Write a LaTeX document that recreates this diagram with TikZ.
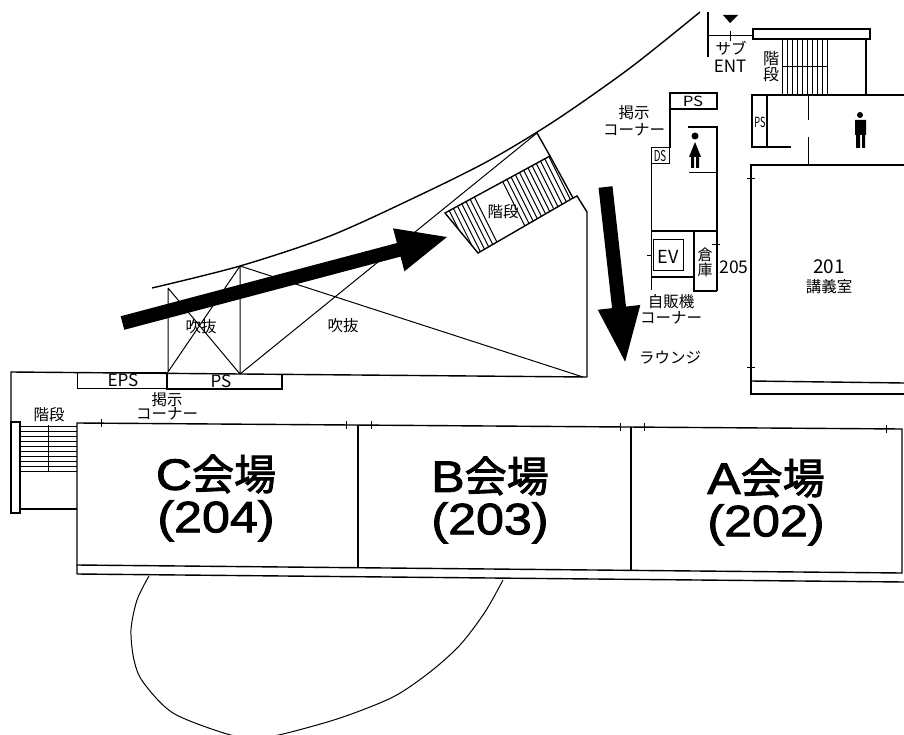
\documentclass[tikz,border=0pt]{standalone}
\usepackage{fontspec}
\setmainfont{Noto Sans CJK JP}
\newfontfamily\hallcjk[FakeBold=2]{Noto Sans CJK JP}
\newfontfamily\halllatin[FakeBold=2,FakeStretch=1.14]{Liberation Sans}
\usetikzlibrary{arrows.meta,calc}
\newcommand{\hallname}[2]{{\fontsize{44}{42}\selectfont\halllatin #1\fontsize{42}{42}\selectfont\hallcjk 会場}\\[6pt]{\fontsize{44}{42}\selectfont\halllatin (#2)}}
\tikzset{
	wall/.style={line width=1.4pt},
	thin wall/.style={line width=1pt},
	label/.style={inner sep=0pt,font=\fontsize{15.5}{16}\selectfont},
	hall/.style={inner sep=0pt,align=center},
	arrow a/.style={line width=14pt,-{Triangle[length=52pt,width=40pt]}},
	arrow b/.style={line width=14pt,-{Triangle[length=58pt,width=38pt]}},
}
\begin{document}
\begin{tikzpicture}[x=1pt,y=-1pt]
	\useasboundingbox (0,0) rectangle (904,735);
	% outer curve and void
	\coordinate (v1) at (168,288);
	\coordinate (v2) at (240,266);
	\coordinate (v3) at (168,372);
	\coordinate (v4) at (240,374);
	\coordinate (v5) at (583,377);
	\coordinate (v6) at (537,133);
	\draw[wall] plot[smooth] coordinates {(152,288) (240,266) (330,236) (420,195) (490,160) (556,120) (630,68) (700,12)};
	\draw[thin wall] (v1) -- (v3) (v2) -- (v4) (v1) -- (v4) (v2) -- (v3) (v2) -- (v5) (v4) -- (v6);
	% rotated stairs
	\coordinate (s1) at (445,213);
	\coordinate (s2) at (550,156);
	\coordinate (s3) at (573,198);
	\coordinate (s4) at (478,253);
	\draw[wall] (s1) -- (s2) -- (s3) -- (s4) -- cycle;
	\draw[wall] (v6) -- (s2);
	\begin{scope}
		\clip (s1) -- (s2) -- (s3) -- (s4) -- cycle;
		\foreach \t in {.04,.08,...,.32,.55,.59,...,.99}
			\draw[thin wall] ($(s1)!\t!(s2)$) -- ++(25,50);
	\end{scope}
	\draw[wall] (s3) -- (577,196) -- (587,212) -- (587,377);
	\node[label] (stair1) at (503,212) {階段};
	\node[label] (void1) at (201,327) {吹抜};
	\node[label] (void2) at (343,326) {吹抜};
	% corridor wall and service boxes
	\draw[wall] (11,422) -- (11,372) -- (587,377);
	\draw[thin wall] (77,372) rectangle (167,388);
	\draw[wall] (167,374) -- (167,389) -- (282,389) -- (282,375);
	\node[label,font=\fontsize{17}{17}\selectfont] (eps) at (123,380) {EPS};
	\node[label,font=\fontsize{17}{17}\selectfont] (ps1) at (221,381) {PS};
	\node[label] (notice1) at (167,400) {掲示};
	\node[label] (corner1) at (167,414) {コーナー};
	% left stairs
	\draw[wall] (11,422) rectangle (20,513);
	\foreach \y in {426,431,...,471}
		\draw[thin wall] (20,\y) -- (77,\y);
	\draw[thin wall] (48,425) -- (48,471);
	\draw[wall] (20,509) -- (77,509);
	\node[label] (stair2) at (49,415) {階段};
	% halls
	\coordinate (h1) at (77,423);
	\coordinate (h2) at (902,429);
	\coordinate (h3) at (902,573);
	\coordinate (h4) at (77,565);
	\draw[wall] (h4) -- (h1) -- (h2) -- (h3) -- cycle;
	\draw[wall] (77,574) -- (904,582) (h4) -- (77,574);
	\draw[wall] (358,425) -- (358,568) (631,427) -- (631,571);
	\foreach \x/\y in {101/423,346/425,371/425,620/427,644/427,886/429}
		\draw[thin wall] (\x,\y-4) -- (\x,\y+4);
	\node[hall] (hallC) at (216,498) {\hallname{C}{204}};
	\node[hall] (hallB) at (490,500) {\hallname{B}{203}};
	\node[hall] (hallA) at (766,502) {\hallname{A}{202}};
	\draw[thin wall] plot[smooth] coordinates {(149,576) (137,600) (131,630) (134,660) (143,682) (173,713) (227,734) (255,738) (283,734) (340,718) (393,697) (430,672) (460,645) (485,612) (503,580)};
	% sub entrance and upper stairs
	\draw[wall] (708,12) -- (708,57);
	\draw[thin wall] (708,36) -- (752,36) (730,31) -- (730,41);
	\fill (723,15) -- (738,15) -- (730,23) -- cycle;
	\draw[wall] (753,29) rectangle (870,39);
	\foreach \x in {782,787,...,827}
		\draw[thin wall] (\x,39) -- (\x,95);
	\draw[thin wall] (782,67) -- (827,67);
	\draw[wall] (866,39) -- (866,95);
	\draw[wall] (752,95) -- (904,95);
	\draw[wall] (752,95) rectangle (767,147);
	\draw[wall] (767,147) -- (791,147);
	\draw[thin wall] (808,95) -- (808,120) (808,137) -- (808,165);
	\node[label] (sub) at (731,48) {サブ};
	\node[label,font=\fontsize{17}{17}\selectfont] (ent) at (730,66) {ENT};
	\node[label,align=center,font=\fontsize{16}{16}\selectfont] (stair3) at (771,67) {階\\段};
	\node[label,font=\fontsize{14}{14}\selectfont,xscale=.65] (ps2) at (760,122) {PS};
	% man
	\fill (860,115) circle (3);
	\fill (855,120) rectangle (866,135) (856,135) rectangle (860,148) (862,135) rectangle (865,148);
	% toilet core
	\draw[wall] (670,93) rectangle (717,109);
	\draw[wall] (670,109) -- (670,148);
	\draw[thin wall] (651,148) rectangle (669,164);
	\draw[thin wall] (651,164) -- (651,290);
	\draw[wall] (688,127) -- (717,127) -- (717,291);
	\draw[thin wall] (689,173) -- (717,173);
	\draw[wall] (651,231) -- (717,231);
	\draw[thin wall] (653,240) rectangle (683,270);
	\draw[wall] (651,277) -- (694,277);
	\draw[wall] (694,232) -- (694,291) -- (717,291);
	\draw[thin wall] (647,255) -- (652,255) (712,245) -- (720,245);
	\node[label,font=\fontsize{14}{14}\selectfont,xscale=1.2] (ps3) at (693,101) {PS};
	\node[label,font=\fontsize{15}{15}\selectfont,xscale=.65] (ds) at (660,156) {DS};
	\node[label] (notice2) at (634,113) {掲示};
	\node[label] (corner2) at (634,130) {コーナー};
	\node[label,font=\fontsize{18}{18}\selectfont] (ev) at (668,257) {EV};
	\node[label,align=center,font=\fontsize{15}{15}\selectfont] (store) at (705,262) {倉\\庫};
	\node[label,font=\fontsize{17.5}{18}\selectfont] (r205) at (734,267) {205};
	\node[label] (vend) at (671,302) {自販機};
	\node[label] (corner3) at (671,318) {コーナー};
	\node[label] (lounge) at (670,358) {ラウンジ};
	% woman
	\fill (695,136) circle (3.5);
	\fill (695,142) -- (701,157) -- (689,157) -- cycle (691,157) rectangle (694,168) (696,157) rectangle (699,168);
	% room 201
	\draw[wall] (904,165) -- (751,165) -- (751,394) -- (904,394);
	\draw[wall] (751,381) -- (904,383);
	\draw[thin wall] (747,179) -- (755,179) (747,367) -- (755,367);
	\node[label,font=\fontsize{19}{19}\selectfont] (r201) at (829,267) {201};
	\node[label] (lecture) at (829,287) {講義室};
	% thick arrows
	\coordinate (a1) at (122.5,323);
	\coordinate (a2) at (449,236.5);
	\coordinate (b1) at (605.5,187);
	\coordinate (b2) at (625.5,365);
	\draw[arrow a] (a1) -- (a2);
	\draw[arrow b] (b1) -- (b2);
\end{tikzpicture}
\end{document}
